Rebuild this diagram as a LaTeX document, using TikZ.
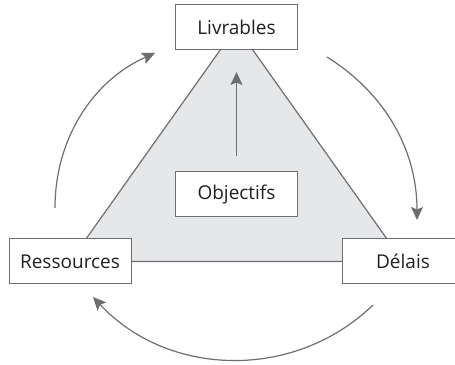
\documentclass[tikz,border=0pt]{standalone}
\usepackage{fontspec}
\setmainfont{Open Sans}
\usetikzlibrary{arrows.meta}
\definecolor{linegray}{HTML}{6D6E71}
\definecolor{fillgray}{HTML}{E6E7E8}
\definecolor{textdark}{HTML}{231F20}
\begin{document}
\begin{tikzpicture}[x=1pt,y=1pt,
  box/.style={draw=linegray, line width=1pt, fill=white,
    minimum width=122pt, minimum height=45pt, inner sep=0pt,
    text=textdark, font=\fontsize{19}{22}\selectfont},
  flow/.style={draw=linegray, line width=1.2pt,
    -{Stealth[length=13pt,width=12pt,inset=2.5pt]}}]
\useasboundingbox (0,0) rectangle (455,364);
\clip (0,0) rectangle (455,364);
% corners of the project triangle
\coordinate (cL) at (236.5,337);
\coordinate (cR) at (70,102.5);
\coordinate (cD) at (403,102.5);
\filldraw[fill=fillgray, draw=linegray, line width=1.2pt, line join=miter]
  (cL) -- (cR) -- (cD) -- cycle;
% boxes
\node[box] (liv) at (cL) {Livrables};
\node[box] (res) at (cR) {Ressources};
\node[box] (del) at (cD) {Délais};
\node[box] (obj) at (236.5,169.5) {Objectifs};
% objectives point to deliverables
\draw[flow, shorten <=15pt, shorten >=22pt] (obj.north) -- (liv.south);
% cycle around the triangle
\coordinate (a1) at (55,156);
\coordinate (a2) at (155,311);
\coordinate (b1) at (327,307);
\coordinate (b2) at (417,144);
\coordinate (c1) at (373,59);
\coordinate (c2) at (93,67);
\draw[flow] (a1) to[out=90, in=204, looseness=0.95] (a2);
\draw[flow] (b1) to[out=-32, in=90, looseness=0.95] (b2);
\draw[flow] (c1) to[out=224, in=-47] (c2);
\end{tikzpicture}
\end{document}
